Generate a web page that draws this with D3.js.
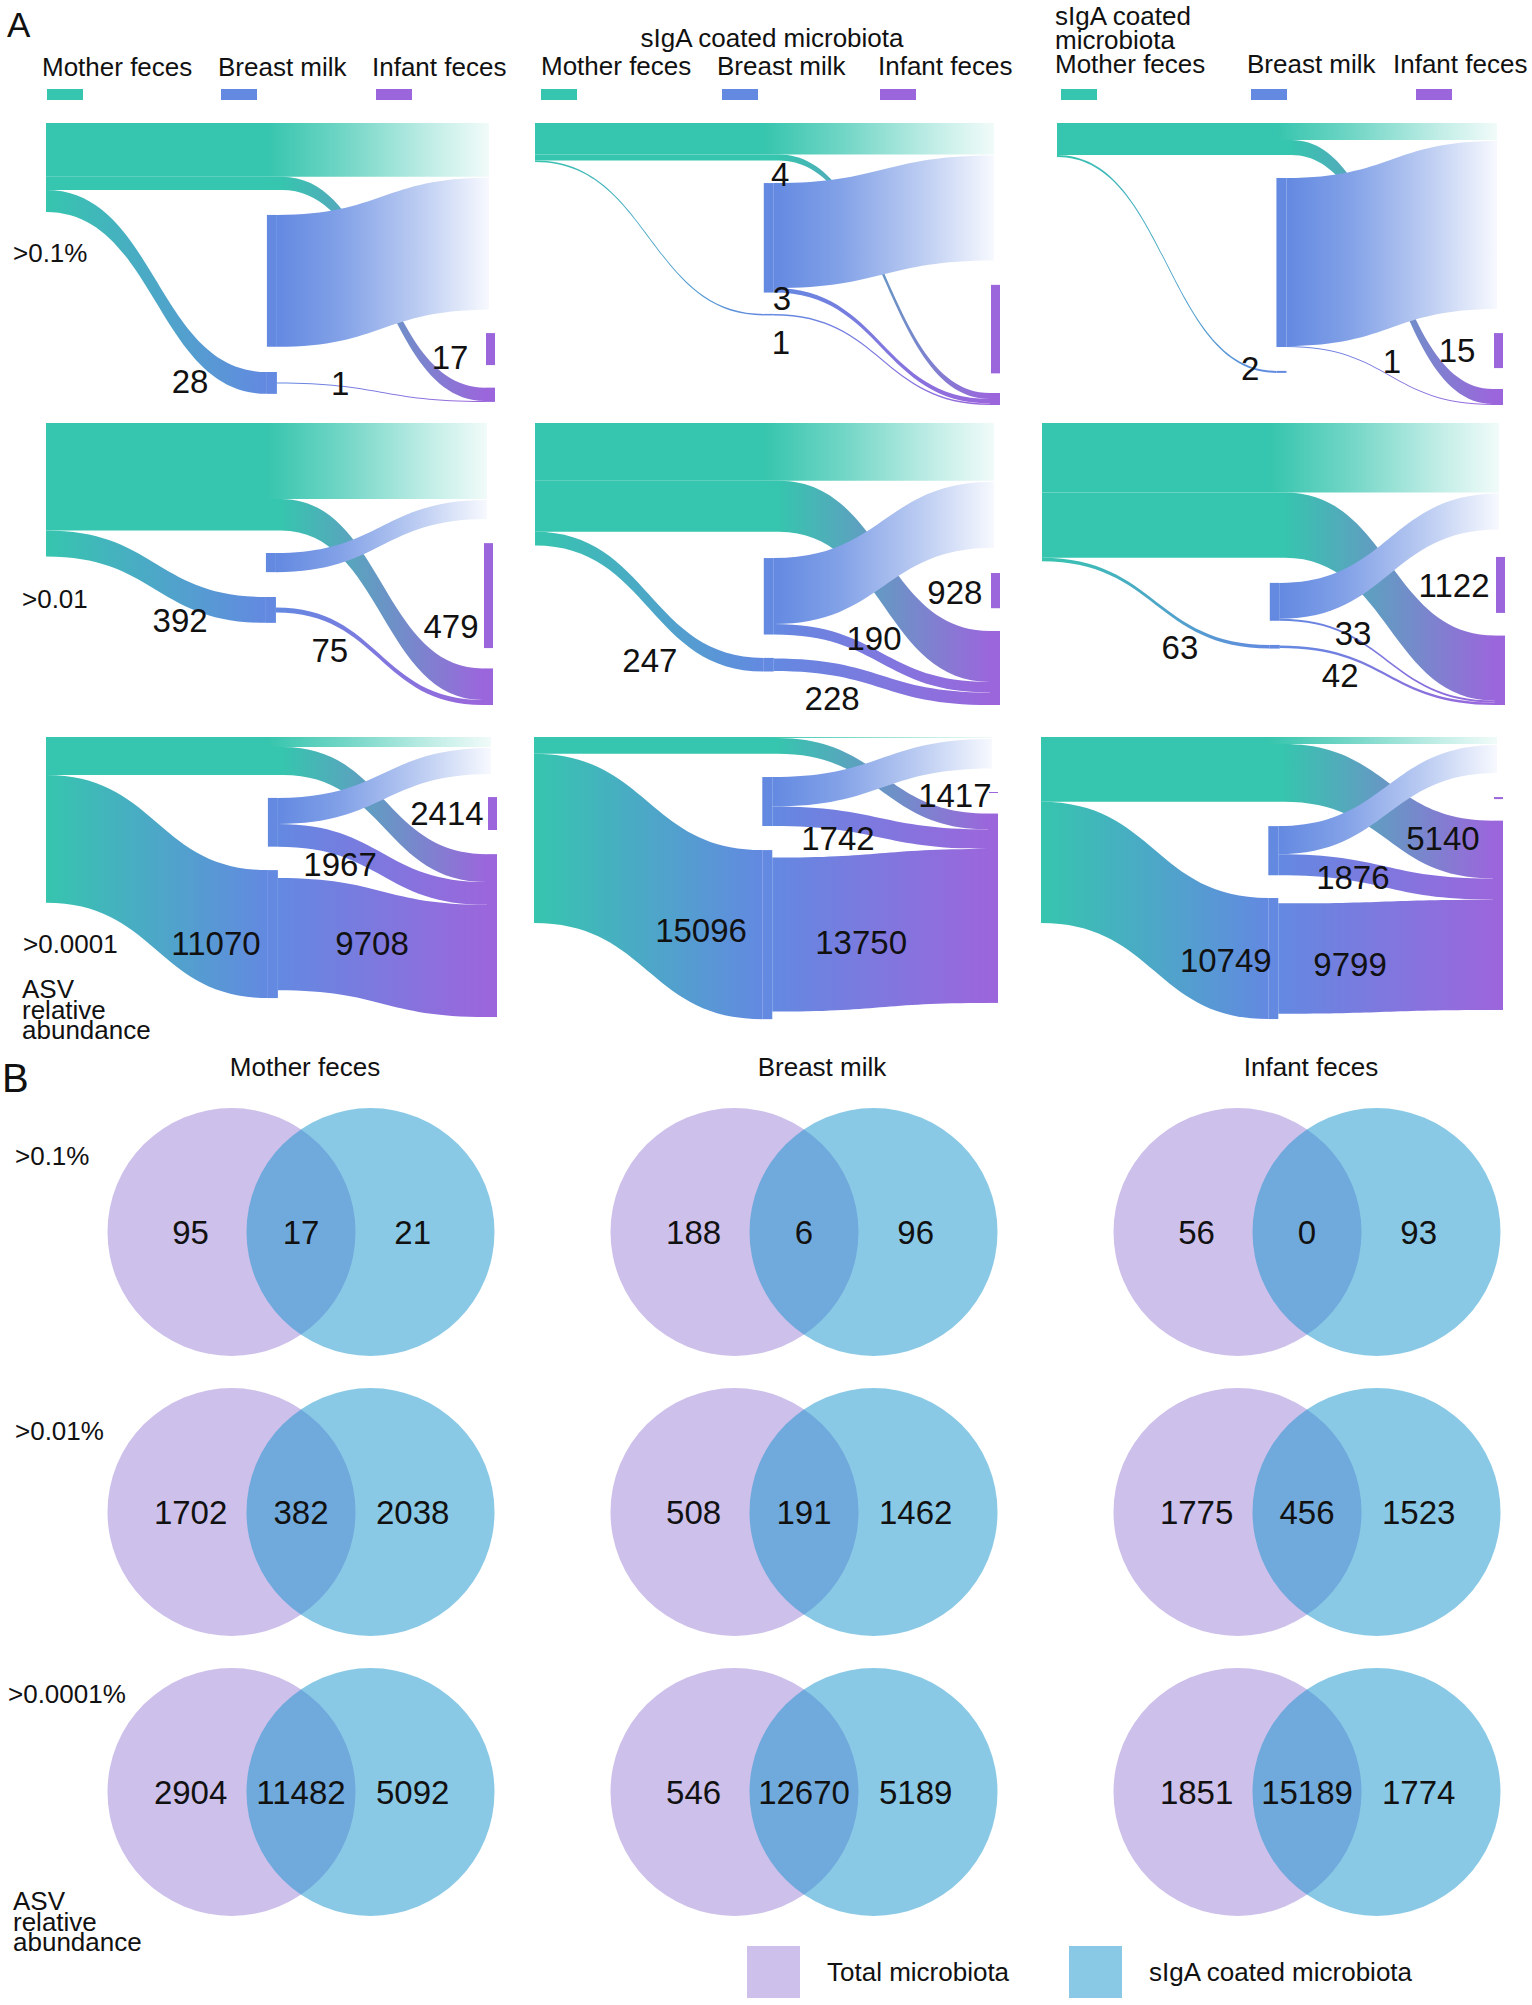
<!DOCTYPE html>
<html>
<head>
<meta charset="utf-8">
<script src="https://cdn.jsdelivr.net/npm/d3@7"></script>
<style>
  body { margin: 0; background: #fff; }
  text { font-family: "Liberation Sans", Arial, sans-serif; fill: #111; }
</style>
</head>
<body>
<div id="chart"></div>
<script>
// ---------------- data ----------------
// sankey panels, row-major: rows = abundance threshold, cols = microbiota fraction
const sankeyThresholds = ['>0.1%', '>0.01', '>0.0001'];
const sankeyGroups = ['Total microbiota', 'sIgA coated microbiota', 'sIgA coated microbiota'];
const sources = ['Mother feces', 'Breast milk', 'Infant feces'];

// ASV counts carried by each band (unlabelled ones estimated from band widths)
const motherOnly   = [69, 21, 17, 1150, 1050, 1200, 865, 80, 620];
const motherInfant = [17, 4, 15, 479, 928, 1122, 2414, 1417, 5140];
const motherMilk   = [28, 1, 2, 392, 247, 63, 11070, 15096, 10749];
const milkOnly     = [169, 70, 168, 290, 1200, 620, 2250, 2630, 2490];
const milkInfantA  = [0, 3, 1, 0, 190, 33, 1967, 1742, 1876];
const milkInfantB  = [1, 1, 0, 75, 228, 42, 9708, 13750, 9799];
const infantOnly   = [41, 59, 35, 1590, 640, 965, 2850, 80, 180];

// which bands carry a printed number
const labelled = [
  ['motherMilk', 'milkInfantB', 'motherInfant'],
  ['motherInfant', 'milkInfantA', 'motherMilk'],
  ['motherMilk', 'milkInfantA', 'motherInfant'],
  ['motherMilk', 'milkInfantB', 'motherInfant'],
  ['motherMilk', 'milkInfantA', 'milkInfantB', 'motherInfant'],
  ['motherMilk', 'milkInfantA', 'milkInfantB', 'motherInfant'],
  ['motherMilk', 'milkInfantB', 'milkInfantA', 'motherInfant'],
  ['motherMilk', 'milkInfantB', 'milkInfantA', 'motherInfant'],
  ['motherMilk', 'milkInfantB', 'milkInfantA', 'motherInfant']
];

// venn panels
const vennSources = ['Mother feces', 'Breast milk', 'Infant feces'];
const vennThresholds = ['>0.1%', '>0.01%', '>0.0001%'];
const totalOnly = [95, 188, 56, 1702, 508, 1775, 2904, 546, 1851];
const sharedAsv = [17, 6, 0, 382, 191, 456, 11482, 12670, 15189];
const igaOnly   = [21, 96, 93, 2038, 1462, 1523, 5092, 5189, 1774];
const vennLegend = ['Total microbiota', 'sIgA coated microbiota'];

// ---------------- layout ----------------
const flows = { motherOnly, motherInfant, motherMilk, milkOnly, milkInfantA, milkInfantB, infantOnly };
const color = { teal: '#36c5ae', blue: '#6389e1', purple: '#9b66dc' };
const srcColor = [color.teal, color.blue, color.purple];

const rowTop = [123, 423, 737];
const panelH = 282;
const panelX0 = [46, 535, 1057, 46, 535, 1042, 46, 534, 1041];
const panelX1 = [495, 1000, 1503, 493, 1000, 1505, 497, 998, 1503];
const pxPerAsv = [0.78, 1.5, 1.0, 0.066, 0.055, 0.058, 0.01156, 0.0112, 0.01126];
// node placement as fractions of the panel height (plotly-style arrangement)
const milkUpperY  = [.326, .213, .195, .461, .479, .567, .216, .142, .316];
const milkLowerY  = [.883, .677, .879, .617, .833, .787, .472, .401, .571];
const infantBotY  = [.989, 1, 1, 1, 1, 1, .993, .943, .968];
const infantOnlyY = [.745, .574, .745, .426, .532, .475, .213, .195, .213];
const labelSpot = [
  { motherMilk: [.321, .915], milkInfantB: [.655, .922], motherInfant: [.900, .830] },
  { motherInfant: [.527, .181], milkInfantA: [.531, .621], motherMilk: [.529, .777] },
  { motherMilk: [.433, .869], milkInfantA: [.751, .844], motherInfant: [.897, .805] },
  { motherMilk: [.300, .699], milkInfantB: [.635, .805], motherInfant: [.906, .720] },
  { motherMilk: [.247, .840], milkInfantA: [.729, .762], milkInfantB: [.639, .975], motherInfant: [.903, .599] },
  { motherMilk: [.298, .794], milkInfantA: [.672, .745], milkInfantB: [.644, .894], motherInfant: [.890, .574] },
  { motherMilk: [.377, .730], milkInfantB: [.723, .730], milkInfantA: [.652, .450], motherInfant: [.889, .270] },
  { motherMilk: [.360, .684], milkInfantB: [.705, .727], milkInfantA: [.655, .358], motherInfant: [.907, .206] },
  { motherMilk: [.400, .791], milkInfantB: [.669, .805], milkInfantA: [.675, .496], motherInfant: [.870, .358] }
];

const svg = d3.select('#chart').append('svg')
  .attr('width', 1532)
  .attr('height', 2005);
const defs = svg.append('defs');

// horizontal gradient in user space
function gradient(id, xa, xb, stops) {
  const g = defs.append('linearGradient')
    .attr('id', id)
    .attr('gradientUnits', 'userSpaceOnUse')
    .attr('x1', xa).attr('x2', xb).attr('y1', 0).attr('y2', 0);
  stops.forEach(s => g.append('stop')
    .attr('offset', s[0]).attr('stop-color', s[1]).attr('stop-opacity', s[2] == null ? 1 : s[2]));
  return `url(#${id})`;
}
const toWhite = c => d3.interpolateRgb(c, '#ffffff');

// band between two vertical segments, optional straight lead-in
function band(xa, ya0, ya1, xb, yb0, yb1, xs) {
  const p = d3.path();
  const xc = xs == null ? xa : xs;
  const xm = (xc + xb) / 2;
  p.moveTo(xa, ya0);
  p.lineTo(xc, ya0);
  p.bezierCurveTo(xm, ya0, xm, yb0, xb, yb0);
  p.lineTo(xb, yb1);
  p.bezierCurveTo(xm, yb1, xm, ya1, xc, ya1);
  p.lineTo(xa, ya1);
  p.closePath();
  return p.toString();
}

function drawPanel(i) {
  const row = Math.floor(i / 3);
  const T = rowTop[row];
  const g = svg.append('g').attr('class', 'sankey');
  const fx = d3.scaleLinear().range([panelX0[i], panelX1[i]]);
  const fy = d3.scaleLinear().range([T, T + panelH]);
  const w = d3.scaleLinear().domain([0, 1]).range([0, pxPerAsv[i]]);
  const thick = v => v > 0 ? Math.max(1, w(v)) : 0;
  const v = key => flows[key][i];
  const nodeW = 10;
  const xM = panelX0[i], xB = fx(0.492), xI = panelX1[i] - nodeW, xR = panelX1[i] - 6;

  // mother stack
  const yMU1 = T + thick(v('motherOnly'));
  const yMI1 = yMU1 + thick(v('motherInfant'));
  const yMB1 = yMI1 + thick(v('motherMilk'));
  // milk nodes
  const yU0 = fy(milkUpperY[i]);
  const yBU1 = yU0 + thick(v('milkOnly'));
  const yBA1 = yBU1 + thick(v('milkInfantA'));
  const yL0 = fy(milkLowerY[i]);
  const yL1 = yL0 + thick(v('motherMilk'));
  const yLb0 = yL0 + (thick(v('motherMilk')) - thick(v('milkInfantB'))) / 2;
  const yLb1 = yLb0 + thick(v('milkInfantB'));
  // infant node
  const yI1 = fy(infantBotY[i]);
  const yI0 = yI1 - thick(v('motherInfant')) - thick(v('milkInfantA')) - thick(v('milkInfantB'));
  const yIa = yI0 + thick(v('motherInfant'));
  const yIb = yIa + thick(v('milkInfantA'));
  // fade target for milk-only band
  const yT0 = yMU1 + 1, yT1 = yT0 + thick(v('milkOnly'));

  const id = k => `g${i}_${k}`;
  const tw = toWhite(color.teal), bw = toWhite(color.blue);
  const bands = [];
  if (v('motherOnly') > 0) bands.push({
    d: band(xM, T, yMU1, xR, T, yMU1),
    fill: gradient(id('mu'), xB, xR, [[0, color.teal], [0.35, tw(0.3)], [0.75, tw(0.7)], [1, tw(0.93)]])
  });
  if (v('motherInfant') > 0) bands.push({
    d: band(xM, yMU1, yMI1, xI, yI0, yIa, xB + 15),
    fill: gradient(id('mi'), xB + 15, xI, [[0, color.teal], [1, color.purple]])
  });
  if (v('motherMilk') > 0) bands.push({
    d: band(xM, yMI1, yMB1, xB, yL0, yL1),
    fill: gradient(id('mb'), xM, xB, [[0, color.teal], [1, color.blue]])
  });
  if (v('milkOnly') > 0) bands.push({
    d: band(xB + nodeW, yU0, yBU1, xR, yT0, yT1),
    fill: gradient(id('bu'), xB + nodeW, xR, [[0, color.blue], [0.3, bw(0.2)], [0.7, bw(0.6)], [1, bw(0.95)]])
  });
  if (v('milkInfantA') > 0) bands.push({
    d: band(xB + nodeW, yBU1, yBA1, xI, yIa, yIb),
    fill: gradient(id('ba'), xB + nodeW, xI, [[0, color.blue], [1, color.purple]])
  });
  if (v('milkInfantB') > 0) bands.push({
    d: band(xB + nodeW, yLb0, yLb1, xI, yIb, yI1),
    fill: gradient(id('bb'), xB + nodeW, xI, [[0, color.blue], [1, color.purple]])
  });

  g.selectAll('path.flow')
    .data(bands)
    .join('path')
    .attr('class', 'flow')
    .attr('d', d => d.d)
    .attr('fill', d => d.fill);

  const nodes = [
    { x: xB, y: yU0, w: nodeW, h: yBA1 - yU0, c: color.blue },
    { x: xB, y: yL0, w: nodeW, h: yL1 - yL0, c: color.blue },
    { x: xI, y: yI0, w: nodeW, h: yI1 - yI0, c: color.purple },
    { x: panelX1[i] - 9, y: fy(infantOnlyY[i]), w: 9, h: thick(v('infantOnly')), c: color.purple }
  ].filter(n => n.h > 0);

  g.selectAll('rect.node')
    .data(nodes)
    .join('rect')
    .attr('class', 'node')
    .attr('x', d => d.x).attr('y', d => d.y)
    .attr('width', d => d.w).attr('height', d => d.h)
    .attr('fill', d => d.c);

  g.selectAll('text.val')
    .data(labelled[i])
    .join('text')
    .attr('class', 'val')
    .attr('x', k => fx(labelSpot[i][k][0]))
    .attr('y', k => fy(labelSpot[i][k][1]))
    .attr('dy', '0.36em')
    .attr('text-anchor', 'middle')
    .style('font-size', '33px')
    .text(k => v(k));
}

d3.range(9).forEach(drawPanel);

// ---------------- panel A headings ----------------
svg.append('text').attr('x', 7).attr('y', 37).style('font-size', '35px').text('A');

svg.append('text').attr('x', 772).attr('y', 47).attr('text-anchor', 'middle')
  .style('font-size', '26px').text(sankeyGroups[1]);
const g3title = svg.append('text').attr('x', 1055).attr('y', 25).style('font-size', '26px');
g3title.append('tspan').attr('x', 1055).text('sIgA coated');
g3title.append('tspan').attr('x', 1055).attr('dy', 24).text('microbiota');

const legendX = [[42, 218, 372], [541, 717, 878], [1055, 1247, 1393]];
const swatchX = [[47, 221, 376], [541, 722, 880], [1061, 1251, 1416]];
const legendY = [76, 75, 73];
legendX.forEach((xs, c) => {
  const lg = svg.append('g').attr('class', 'legend');
  lg.selectAll('text').data(sources).join('text')
    .attr('x', (d, j) => xs[j]).attr('y', legendY[c])
    .style('font-size', '26px').text(d => d);
  lg.selectAll('rect').data(sources).join('rect')
    .attr('x', (d, j) => swatchX[c][j]).attr('y', 89)
    .attr('width', 36).attr('height', 11)
    .attr('fill', (d, j) => srcColor[j]);
});

const sankeyRowLabel = [[13, 262], [22, 608], [23, 953]];
sankeyThresholds.forEach((t, r) => {
  svg.append('text').attr('x', sankeyRowLabel[r][0]).attr('y', sankeyRowLabel[r][1])
    .style('font-size', '26px').text(t);
});
function asvNote(x, y) {
  const t = svg.append('text').style('font-size', '26px');
  ['ASV', 'relative', 'abundance'].forEach((w, j) => {
    t.append('tspan').attr('x', x).attr('y', y + j * 20.5).text(w);
  });
}
asvNote(22, 998);

// ---------------- panel B: venn ----------------
svg.append('text').attr('x', 2).attr('y', 1092).style('font-size', '40px').text('B');

const vx = d3.scalePoint().domain(vennSources).range([301, 1307]);
const vy = d3.scalePoint().domain(vennThresholds).range([1232, 1792]);
const vr = 124, half = 69.5;

svg.selectAll('text.vhead')
  .data(vennSources)
  .join('text')
  .attr('class', 'vhead')
  .attr('x', d => vx(d) + (d === 'Breast milk' ? 18 : 4))
  .attr('y', 1076)
  .attr('text-anchor', 'middle')
  .style('font-size', '26px')
  .text(d => d);

const vennRowLabel = [[15, 1165], [15, 1440], [8, 1703]];
vennThresholds.forEach((t, r) => {
  svg.append('text').attr('x', vennRowLabel[r][0]).attr('y', vennRowLabel[r][1])
    .style('font-size', '26px').text(t);
});
asvNote(13, 1910);

const cells = d3.range(9).map(i => ({
  src: vennSources[i % 3],
  thr: vennThresholds[Math.floor(i / 3)],
  counts: [totalOnly[i], sharedAsv[i], igaOnly[i]]
}));

const vg = svg.selectAll('g.venn')
  .data(cells)
  .join('g')
  .attr('class', 'venn')
  .attr('transform', d => `translate(${vx(d.src)},${vy(d.thr)})`);

vg.append('circle').attr('cx', -half).attr('r', vr).attr('fill', '#cdc0eb');
vg.append('circle').attr('cx', half).attr('r', vr).attr('fill', '#1393cd').attr('fill-opacity', 0.5);

// number spots: middle of each lune and of the lens
const spotX = [-half - 0.33 * vr, 0, half + 0.34 * vr];
vg.selectAll('text')
  .data(d => d.counts)
  .join('text')
  .attr('x', (d, j) => spotX[j])
  .attr('dy', '0.36em')
  .attr('text-anchor', 'middle')
  .style('font-size', '33px')
  .text(d => d);

// bottom legend
const legCol = ['#cdc0eb', '#89c9e6'];
const bl = svg.selectAll('g.vleg')
  .data(vennLegend)
  .join('g')
  .attr('class', 'vleg')
  .attr('transform', (d, j) => `translate(${[747, 1069][j]},1946)`);
bl.append('rect').attr('width', 53).attr('height', 52).attr('fill', (d, j) => legCol[j]);
bl.append('text').attr('x', 80).attr('y', 35).style('font-size', '26px').text(d => d);
</script>
</body>
</html>
